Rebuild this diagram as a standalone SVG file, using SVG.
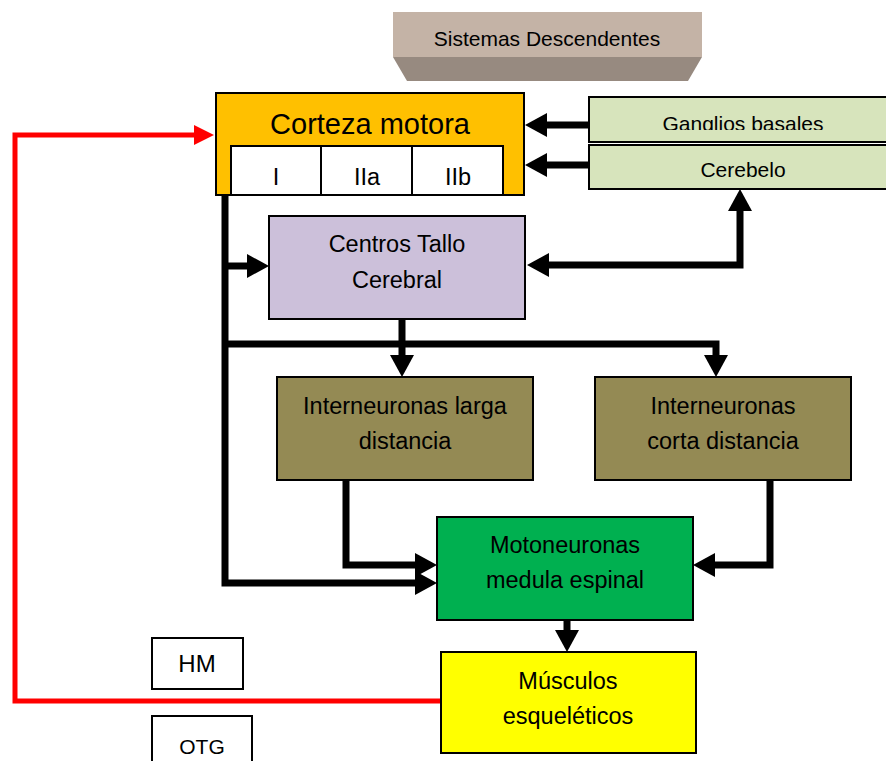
<svg xmlns="http://www.w3.org/2000/svg" width="886" height="761" viewBox="0 0 886 761">
  <style>
    text { font-family: "Liberation Sans", "Open Sans", sans-serif; fill: #000; text-anchor: middle; }
    .box { stroke: #000; stroke-width: 2; }
    .wire { fill: none; stroke: #000; stroke-width: 7; }
    .fb { fill: none; stroke: #ff0000; stroke-width: 5; }
    .t24 { font-size: 23.5px; }
    .t21 { font-size: 21px; }
  </style>
  <defs>
    <marker id="ah" markerUnits="userSpaceOnUse" markerWidth="24" markerHeight="26" refX="3" refY="12" orient="auto-start-reverse">
      <path d="M0,0 L22,12 L0,24 z" fill="#000"/>
    </marker>
    <marker id="rh" markerUnits="userSpaceOnUse" markerWidth="22" markerHeight="22" refX="3" refY="10" orient="auto">
      <path d="M0,0 L20,10 L0,20 z" fill="#ff0000"/>
    </marker>
    <clipPath id="gbClip">
      <rect x="589" y="97" width="297" height="33"/>
    </clipPath>
  </defs>

  <!-- connectors -->
  <g id="connectors">
    <path class="wire" d="M589,125 H544" marker-end="url(#ah)"/>
    <path class="wire" d="M589,165 H544" marker-end="url(#ah)"/>
    <path class="wire" d="M546,265 H740 V208" marker-start="url(#ah)" marker-end="url(#ah)"/>
    <path class="wire" d="M225,195 V583 H418" marker-end="url(#ah)"/>
    <path class="wire" d="M225,266 H250" marker-end="url(#ah)"/>
    <path class="wire" d="M225,344 H716 V358" marker-end="url(#ah)"/>
    <path class="wire" d="M402,319 V358" marker-end="url(#ah)"/>
    <path class="wire" d="M346,480 V565 H418" marker-end="url(#ah)"/>
    <path class="wire" d="M770,480 V565 H712" marker-end="url(#ah)"/>
    <path class="wire" d="M567,620 V633" marker-end="url(#ah)"/>
    <path class="fb" d="M441,701 H15 V135 H197" marker-end="url(#rh)"/>
  </g>

  <!-- header block with bevelled lower face -->
  <g id="sistemas">
    <polygon points="393,57 702,57 688,81 407,81" fill="#978a80"/>
    <rect x="393" y="12" width="309" height="45" fill="#c4b3a6"/>
    <text x="547" y="46" class="t21">Sistemas Descendentes</text>
  </g>

  <g id="corteza">
    <rect class="box" x="216" y="93" width="308" height="102" fill="#ffc000"/>
    <text x="370" y="134" style="font-size:29px">Corteza motora</text>
    <rect class="box" x="231" y="146" width="90" height="49" fill="#fff"/>
    <rect class="box" x="321" y="146" width="91" height="49" fill="#fff"/>
    <rect class="box" x="412" y="146" width="91" height="49" fill="#fff"/>
    <text x="276" y="185" class="t24">I</text>
    <text x="367" y="185" class="t24">IIa</text>
    <text x="458" y="185" class="t24">IIb</text>
  </g>

  <g id="ganglios">
    <rect class="box" x="589" y="97" width="300" height="45" fill="#d7e4bc"/>
    <text x="743" y="131" class="t21" clip-path="url(#gbClip)">Ganglios basales</text>
  </g>

  <g id="cerebelo">
    <rect class="box" x="589" y="145" width="300" height="44" fill="#d7e4bc"/>
    <text x="743" y="177" class="t21">Cerebelo</text>
  </g>

  <g id="centros">
    <rect class="box" x="269" y="216" width="256" height="103" fill="#ccc0da"/>
    <text x="397" y="252" class="t24">Centros Tallo</text>
    <text x="397" y="288" class="t24">Cerebral</text>
  </g>

  <g id="inter-larga">
    <rect class="box" x="277" y="377" width="256" height="103" fill="#948a54"/>
    <text x="405" y="414" class="t24">Interneuronas larga</text>
    <text x="405" y="449" class="t24">distancia</text>
  </g>

  <g id="inter-corta">
    <rect class="box" x="595" y="377" width="256" height="103" fill="#948a54"/>
    <text x="723" y="414" class="t24">Interneuronas</text>
    <text x="723" y="449" class="t24">corta distancia</text>
  </g>

  <g id="motoneuronas">
    <rect class="box" x="437" y="517" width="256" height="103" fill="#00b050"/>
    <text x="565" y="553" class="t24">Motoneuronas</text>
    <text x="565" y="588" class="t24">medula espinal</text>
  </g>

  <g id="musculos">
    <rect class="box" x="441" y="652" width="255" height="101" fill="#ffff00"/>
    <text x="568" y="689" class="t24">Músculos</text>
    <text x="568" y="724" class="t24">esqueléticos</text>
  </g>

  <g id="hm">
    <rect class="box" x="152" y="638" width="91" height="51" fill="#fff"/>
    <text x="197" y="672" style="font-size:24px">HM</text>
  </g>

  <g id="otg">
    <rect class="box" x="152" y="716" width="100" height="50" fill="#fff"/>
    <text x="202" y="754" class="t21">OTG</text>
  </g>
</svg>
